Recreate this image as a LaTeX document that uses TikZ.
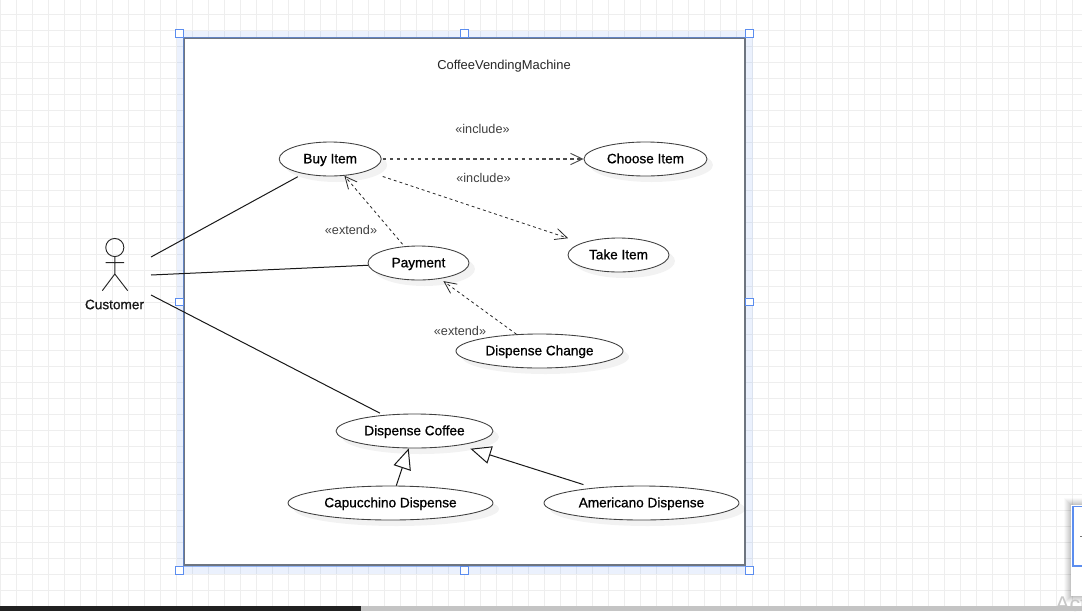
\documentclass[tikz,border=0pt]{standalone}
\usepackage{fontspec}
\setmainfont{Liberation Sans}
\newfontfamily\medfont[FakeBold=0.8]{Liberation Sans}
\usetikzlibrary{arrows.meta,shapes.geometric,shadows}
\definecolor{gridc}{HTML}{EEEEEE}
\definecolor{bandc}{HTML}{3D7BF0}
\definecolor{handlec}{HTML}{5B8DEF}
\definecolor{edgec}{HTML}{6E7580}
\tikzset{
  usecase/.style={draw=black!75,fill=white,ellipse,inner sep=0pt,line width=.65pt,
    text height=8.4pt,text depth=2pt,
    drop shadow={shadow xshift=4.5pt,shadow yshift=-4.5pt,fill=black,opacity=.05},
    font=\fontsize{10.2}{12}\medfont},
  medlabel/.style={font=\fontsize{9.7}{12}\selectfont,text=black!85},
  thinlabel/.style={font=\fontsize{9.5}{12}\selectfont,text=black!75},
  assoc/.style={draw=black!90,line width=.75pt},
  dep/.style={draw=black!85,line width=.6pt,dash pattern=on 2.2pt off 2.2pt,
    -{Straight Barb[length=9pt,width=8.5pt,line width=.6pt]}},
  depthick/.style={draw=black!70,line width=.85pt,dash pattern=on 2.6pt off 2.6pt,
    -{Straight Barb[length=9pt,width=8.5pt,line width=.7pt]}},
  gen/.style={draw=black!90,line width=.75pt,-{Triangle[open,fill=white,length=15.5pt,width=13.5pt,line width=.75pt]}},
  handle/.style={draw=handlec,fill=white,line width=.85pt,minimum size=5.6pt,inner sep=0pt,rectangle},
  actor/.style={draw=black!85,line width=.7pt}
}
\begin{document}
\begin{tikzpicture}[x=0.75pt,y=-0.75pt]
\useasboundingbox (0,0) rectangle (1082,611);
\clip (0,0) rectangle (1082,611);
\fill[white] (0,0) rectangle (1082,611);
% grid
\foreach \gx in {0,...,67} \draw[gridc,line width=.75pt] ({16*\gx+.5},0) -- ({16*\gx+.5},611);
\foreach \gy in {0,...,37} \draw[gridc,line width=.75pt] (0,{16*\gy+14.5}) -- (1082,{16*\gy+14.5});
% selection band
\fill[bandc,opacity=.1] (176.5,30.5) rectangle (753,574);
% system boundary
\node[draw=edgec,fill=white,line width=1.5pt,rectangle,inner sep=0pt,outer sep=0pt,
  minimum width=420.75pt,minimum height=395.6pt,anchor=north west] (boundary) at (184,38) {};
\draw[handlec,opacity=.6,line width=.5pt] ([shift={(-1,-1)}]boundary.north west) -- ([shift={(1,-1)}]boundary.north east);
\draw[handlec,opacity=.6,line width=.5pt] ([shift={(-1,-1)}]boundary.north west) -- ([shift={(-1,1)}]boundary.south west) -- ([shift={(1,1)}]boundary.south east);
% handles
\node[handle] (h1) at (179.5,33.5) {};
\node[handle] (h2) at (464.5,33.5) {};
\node[handle] (h3) at (749.5,33.5) {};
\node[handle] (h4) at (179.5,302) {};
\node[handle] (h5) at (749.5,302) {};
\node[handle] (h6) at (179.5,570.5) {};
\node[handle] (h7) at (464.5,570.5) {};
\node[handle] (h8) at (749.5,570.5) {};
% labels
\node[medlabel] (title) at (504,66) {CoffeeVendingMachine};
\node[thinlabel] (inc1) at (482.5,129) {«include»};
\node[thinlabel] (inc2) at (483.5,178) {«include»};
\node[thinlabel] (ext1) at (351,230) {«extend»};
\node[thinlabel] (ext2) at (460,331) {«extend»};
% use cases
\node[usecase,minimum width=76.5pt,minimum height=25.5pt] (buy) at (330.2,159) {Buy Item};
\node[usecase,minimum width=92.25pt,minimum height=25.5pt] (choose) at (645.5,159) {Choose Item};
\node[usecase,minimum width=75.75pt,minimum height=25.5pt] (take) at (618.5,255) {Take Item};
\node[usecase,minimum width=75.75pt,minimum height=25.5pt] (pay) at (418.5,263) {Payment};
\node[usecase,minimum width=125.25pt,minimum height=25.5pt] (change) at (539.5,351) {Dispense Change};
\node[usecase,minimum width=117.75pt,minimum height=25.5pt] (coffee) at (414.5,431) {Dispense Coffee};
\node[usecase,minimum width=153.75pt,minimum height=25.5pt] (capu) at (390.5,503) {Capucchino Dispense};
\node[usecase,minimum width=146.25pt,minimum height=25.5pt] (amer) at (641.5,503) {Americano Dispense};
% actor
\node[draw=black!85,line width=.7pt,circle,inner sep=0pt,minimum size=13.6pt] (head) at (114.8,247.5) {};
\coordinate (hip) at (114.8,274);
\coordinate (armL) at (105.5,262.7);
\coordinate (armR) at (124,262.7);
\coordinate (legL) at (102.3,290.7);
\coordinate (legR) at (127.7,290.7);
\draw[actor] (head.south) -- (hip) (armL) -- (armR) (legL) -- (hip) -- (legR);
\node[font=\fontsize{10.2}{12}\medfont,text=black!90] (customer) at (114.5,304.5) {Customer};
% free ends
\coordinate (a1) at (151,257);
\coordinate (a2) at (151,275);
\coordinate (a3) at (151,295);
% connectors
\draw[assoc,shorten >=4.5pt] (a1) -- (buy);
\draw[assoc] (a2) -- (pay);
\draw[assoc,shorten >=3pt] (a3) -- (coffee);
\draw[depthick,shorten <=1pt] (buy) -- (choose);
\draw[dep,shorten <=12.5pt,shorten >=11pt] (buy) -- (take);
\draw[dep,shorten <=2pt] (pay) -- (buy);
\draw[dep,shorten >=3pt] (change) -- (pay);
\draw[gen] (capu) -- (coffee);
\draw[gen,shorten <=8pt,shorten >=8.5pt] (amer) -- (coffee);
% side panel
\foreach \sh/\op in {7/.02,6/.03,5/.03,4/.03,3/.04,2/.04,1/.05}
  \fill[black,opacity=\op] ({1071-\sh},{505-\sh}) rectangle (1082,{596+\sh});
\fill[white] (1071,505) rectangle (1082,596);
\draw[handlec,line width=.9pt] (1082,506.5) -- (1073,506.5) -- (1073,566) -- (1082,566);
\draw[black!55,line width=.6pt] (1080,536.5) -- (1082,536.5);
% watermark
\node[anchor=base west,inner sep=0pt,text=black!22,font=\fontsize{16}{18}\selectfont] (act) at (1055,611) {Act};
% scrollbar
\fill[black!23] (0,606) rectangle (1082,611);
\fill[black!87] (0,606) rectangle (361,611);
\end{tikzpicture}
\end{document}
